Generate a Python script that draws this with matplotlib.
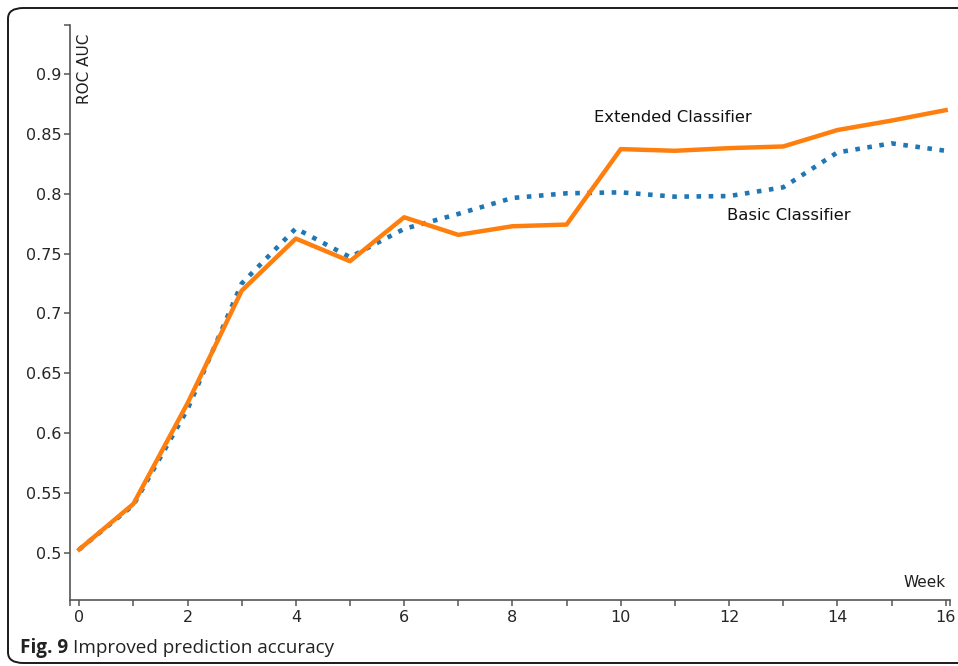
import matplotlib
matplotlib.use("Agg")
import matplotlib.pyplot as plt
from matplotlib.patches import FancyBboxPatch

# ROC AUC per week
weeks = list(range(17))
extended_auc = [0.503, 0.541, 0.625, 0.719, 0.7625, 0.7436, 0.7803, 0.7656, 0.7728,
                0.7742, 0.8372, 0.8358, 0.838, 0.8394, 0.8531, 0.861, 0.8697]
basic_auc = [0.503, 0.540, 0.620, 0.725, 0.771, 0.747, 0.7706, 0.7831, 0.7964,
             0.8003, 0.8011, 0.7975, 0.798, 0.8053, 0.8344, 0.842, 0.8358]
y_ticks = [0.5, 0.55, 0.6, 0.65, 0.7, 0.75, 0.8, 0.85, 0.9]
y_tick_labels = ["0.5", "0.55", "0.6", "0.65", "0.7", "0.75", "0.8", "0.85", "0.9"]
x_ticks = list(range(0, 17, 2))

W, H = 958, 666
XMIN, XMAX = -0.17, 16.08
YMIN, YMAX = 0.4608, 0.9408

fig = plt.figure(figsize=(W / 100, H / 100), dpi=100)
fig.patch.set_facecolor("white")

# rounded frame around the figure panel (right side runs off the image)
frame = FancyBboxPatch((8 / W, (H - 663) / H), (990 - 8) / W, (663 - 8) / H,
                       boxstyle="round,pad=0,rounding_size=0.016",
                       transform=fig.transFigure, fill=False,
                       edgecolor="#1a1a1a", linewidth=1.4, clip_on=False)
fig.patches.append(frame)

ax = fig.add_axes([70 / W, 66 / H, (950 - 70) / W, (641 - 66) / H])
ax.plot(weeks, basic_auc, color="#1f77b4", linestyle=":", linewidth=3.3)
ax.plot(weeks, extended_auc, color="#ff7f0e", linestyle="-", linewidth=3.2)

ax.set_xlim(XMIN, XMAX)
ax.set_ylim(YMIN, YMAX)
ax.set_yticks(y_ticks)
ax.set_yticklabels(y_tick_labels)
ax.set_xticks(x_ticks)
# odd weeks plus end caps of the axes as unlabeled ticks
ax.set_xticks(list(range(1, 17, 2)) + [XMIN, XMAX], minor=True)
ax.set_yticks([YMAX], minor=True)

for side in ["top", "right"]:
    ax.spines[side].set_visible(False)
for side in ["left", "bottom"]:
    ax.spines[side].set_color("#555555")
    ax.spines[side].set_linewidth(1.2)
ax.tick_params(axis="both", which="both", direction="out", length=4,
               width=1.1, color="#555555", labelsize=11.5, labelcolor="#262626")
ax.tick_params(axis="y", pad=2)
ax.tick_params(axis="x", pad=3)

ax.text(0.017, 0.985, "ROC AUC", rotation=90, ha="center", va="top",
        transform=ax.transAxes, fontsize=11, color="#1f1f1f")
ax.text(0.995, 0.017, "Week", ha="right", va="bottom",
        transform=ax.transAxes, fontsize=11, color="#1f1f1f")

ax.text(9.5, 0.864, "Extended Classifier", ha="left", va="center",
        fontsize=11.8, color="#111111")
ax.text(11.96, 0.7815, "Basic Classifier", ha="left", va="center",
        fontsize=11.8, color="#111111")

# caption
t1 = fig.text(20 / W, 1 - 648 / H, "Fig. 9", ha="left", va="center",
              fontsize=13.6, fontweight="bold", family="Open Sans", color="#222222")
fig.canvas.draw()
bb = t1.get_window_extent()
fig.text((bb.x1 + 5) / W, 1 - 648 / H, "Improved prediction accuracy", ha="left",
         va="center", fontsize=13.6, family="Open Sans", color="#222222")

fig.savefig("out.png", dpi=100)
